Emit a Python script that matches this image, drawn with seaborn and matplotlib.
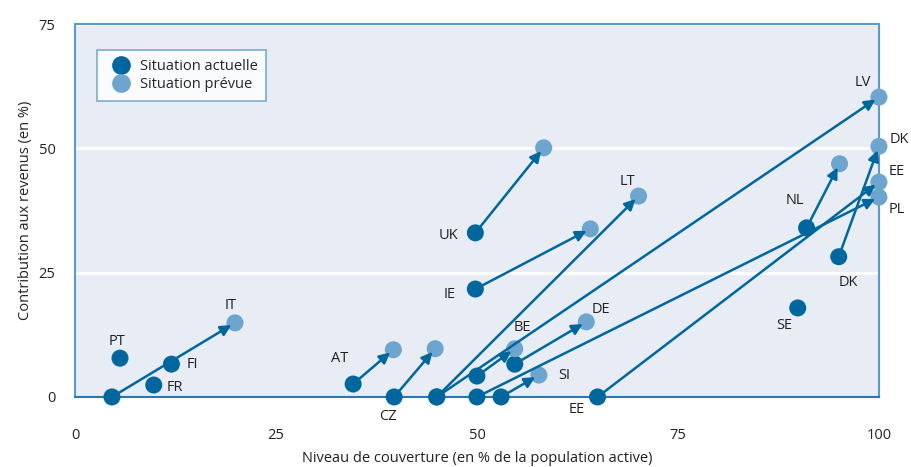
import pandas as pd
import seaborn as sns
import matplotlib.pyplot as plt

# pays avec une fleche : situation actuelle -> situation prevue
pays_fleche = ["IT", "AT", "CZ", "LT", "LV", "BE", "DE", "PL", "SI", "EE", "UK", "IE", "NL", "DK"]
x_actuel = [4.6, 34.6, 39.7, 45.0, 45.0, 50.0, 54.7, 50.0, 53.0, 65.0, 49.8, 49.8, 91.0, 95.0]
y_actuel = [0.0, 2.6, 0.0, 0.0, 0.0, 4.2, 6.6, 0.0, 0.0, 0.0, 33.0, 21.7, 34.0, 28.2]
x_prevu = [19.9, 39.6, 44.8, 70.1, 100.0, 54.7, 63.6, 100.0, 57.7, 100.0, 58.3, 64.1, 95.1, 100.0]
y_prevu = [14.9, 9.5, 9.7, 40.4, 60.3, 9.7, 15.1, 40.2, 4.4, 43.2, 50.1, 33.8, 46.9, 50.4]

# pays sans changement prevu
pays_seuls = ["PT", "FI", "FR", "SE"]
x_seuls = [5.6, 12.0, 9.8, 89.9]
y_seuls = [7.8, 6.6, 2.4, 17.9]

# etiquettes : decalage en pixels par rapport au point
etiq_actuel = {"PT": (-3, 17), "FI": (21, 0), "FR": (21, -2), "AT": (-14, 26), "CZ": (-6, -20),
               "UK": (-27, -3), "IE": (-26, -5), "EE": (-21, -13), "NL": (-12, 27),
               "DK": (10, -26), "SE": (-13, -18)}
etiq_prevu = {"IT": (-4, 17), "BE": (8, 21), "DE": (15, 12), "SI": (25, 0), "LT": (-11, 15),
              "LV": (-16, 15), "DK": (20, 7), "EE": (18, 11), "PL": (18, -12)}

fonce = "#00679E"
clair = "#6DA5CE"
cadre = "#5B9BC8"

df = pd.concat([
    pd.DataFrame({"pays": pays_fleche + pays_seuls, "x": x_actuel + x_seuls,
                  "y": y_actuel + y_seuls, "statut": "Situation actuelle"}),
    pd.DataFrame({"pays": pays_fleche, "x": x_prevu, "y": y_prevu, "statut": "Situation prévue"}),
])

sns.set_style("white")
plt.rcParams["font.family"] = ["Open Sans", "DejaVu Sans"]

fig = plt.figure(figsize=(9.11, 4.67), dpi=100)
ax = fig.add_axes([0.0823, 0.150, 0.8825, 0.7986])
ax.set_facecolor("#E7ECF5")

sns.scatterplot(data=df, x="x", y="y", hue="statut", palette=[fonce, clair],
                s=150, edgecolor="none", clip_on=False, zorder=3, ax=ax)

# fleches
for xa, ya, xp, yp in zip(x_actuel, y_actuel, x_prevu, y_prevu):
    ax.annotate("", xy=(xp, yp), xytext=(xa, ya),
                arrowprops=dict(arrowstyle="-|>", color=fonce, lw=1.8, mutation_scale=16,
                                shrinkA=0, shrinkB=3),
                zorder=4, annotation_clip=False)

# etiquettes des pays
pos_actuel = {p: (x, y) for p, x, y in zip(pays_fleche + pays_seuls, x_actuel + x_seuls, y_actuel + y_seuls)}
pos_prevu = {p: (x, y) for p, x, y in zip(pays_fleche, x_prevu, y_prevu)}
for p, d in etiq_actuel.items():
    ax.annotate(p, pos_actuel[p], xytext=d, textcoords="offset pixels", ha="center",
                va="center", fontsize=10.5, color="#222222", annotation_clip=False)
for p, d in etiq_prevu.items():
    ax.annotate(p, pos_prevu[p], xytext=d, textcoords="offset pixels", ha="center",
                va="center", fontsize=10.5, color="#222222", annotation_clip=False)

ax.set_xlim(0, 100)
ax.set_ylim(0, 75)
ax.set_xticks([0, 25, 50, 75, 100])
ax.set_yticks([0, 25, 50, 75])
ax.yaxis.grid(True, color="white", lw=2)
ax.set_axisbelow(True)
ax.tick_params(axis="x", length=8, width=1.2, color=cadre, pad=14, labelsize=10.5, labelcolor="#222222")
ax.tick_params(axis="y", length=0, pad=14, labelsize=10.5, labelcolor="#222222")

for s in ["left", "right", "top"]:
    ax.spines[s].set_color(cadre)
    ax.spines[s].set_linewidth(1.5)
ax.spines["bottom"].set_color("#2C78AE")
ax.spines["bottom"].set_linewidth(1.5)

ax.set_xlabel("Niveau de couverture (en % de la population active)", fontsize=10.5, color="#222222", labelpad=6)
ax.set_ylabel("Contribution aux revenus (en %)", fontsize=10.5, color="#222222", labelpad=4)

leg = ax.legend(loc="upper left", bbox_to_anchor=(0.028, 0.93), borderaxespad=0, fontsize=10.5,
                frameon=True, fancybox=False, edgecolor=cadre, handletextpad=0.3,
                borderpad=0.6, labelspacing=0.2, markerscale=1.1)
leg.get_frame().set_linewidth(1.2)
leg.get_frame().set_facecolor("white")

fig.savefig("out.png", dpi=100)
